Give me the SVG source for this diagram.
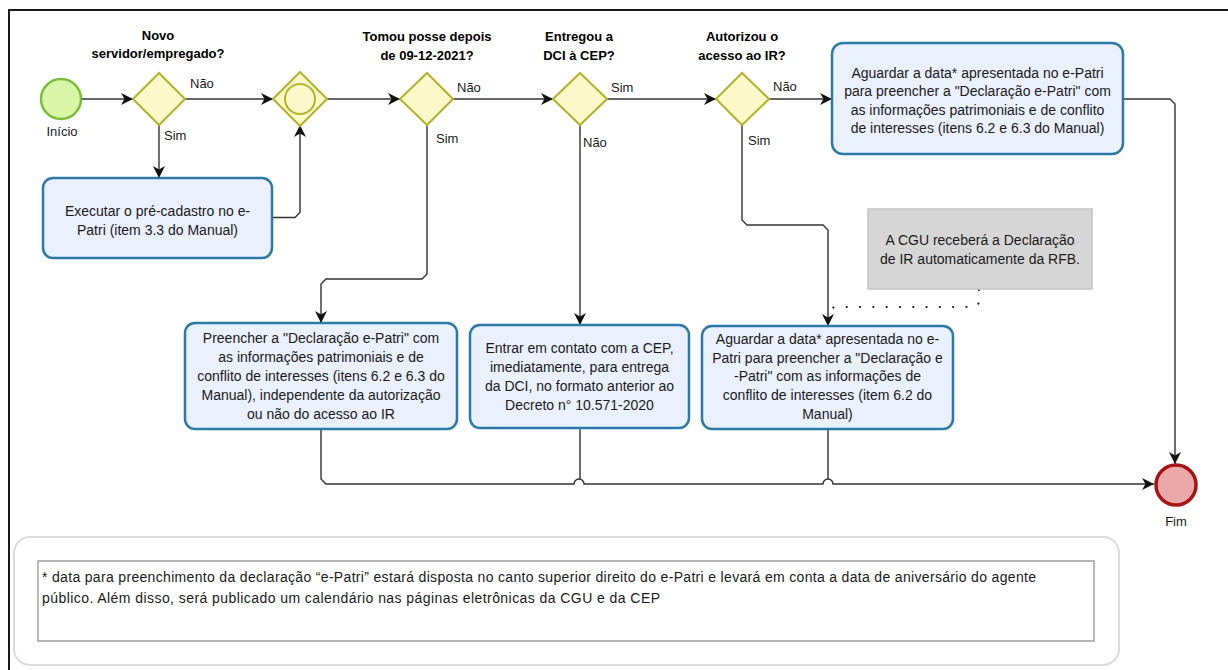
<svg xmlns="http://www.w3.org/2000/svg" width="1228" height="670" viewBox="0 0 1228 670">
<style>
text{font-family:"Liberation Sans",Arial,sans-serif;fill:#1a1a1a}
.q{font-size:13px;font-weight:bold;text-anchor:middle;fill:#000}
.lbl{font-size:13px}
.t{font-size:14px;text-anchor:middle}
.task{fill:#ebf0fd;stroke:#2b7aa8;stroke-width:2.5}
.gw{fill:#fbf9c9;stroke:#b3b32d;stroke-width:2}
.c{fill:none;stroke:#333;stroke-width:1.4}
.foot{font-size:14px}
</style>
<defs>
<marker id="ah" markerUnits="userSpaceOnUse" markerWidth="12" markerHeight="12" refX="12" refY="6" orient="auto">
<path d="M0,0 L12,6 L0,12 L3.5,6 z" fill="#111"/>
</marker>
</defs>
<rect width="1228" height="670" fill="#fff"/>
<path d="M9,680 V10 H1240" fill="none" stroke="#1a1a1a" stroke-width="2"/>

<g id="connectors">
<path class="c" d="M81,99 H133" marker-end="url(#ah)"/>
<path class="c" d="M185,99 H273" marker-end="url(#ah)"/>
<path class="c" d="M159,125 V178" marker-end="url(#ah)"/>
<path class="c" d="M272,217.5 H295 L300,212.5 V125" marker-end="url(#ah)"/>
<path class="c" d="M327,99 H400" marker-end="url(#ah)"/>
<path class="c" d="M453,99 H553" marker-end="url(#ah)"/>
<path class="c" d="M427,125 V274 L422,279 H326 L321,284 V323" marker-end="url(#ah)"/>
<path class="c" d="M607,99 H716" marker-end="url(#ah)"/>
<path class="c" d="M580,125 V325" marker-end="url(#ah)"/>
<path class="c" d="M769,99 H832" marker-end="url(#ah)"/>
<path class="c" d="M742,125 V220 L747,225 H823 L828,230 V326" marker-end="url(#ah)"/>
<path class="c" d="M1123,99 H1170 L1175,104 V464" marker-end="url(#ah)"/>
<path class="c" d="M321,430 V479 L326,484 H574 A5,5 0 0 1 584,484 H823 A5,5 0 0 1 833,484 H1154" marker-end="url(#ah)"/>
<path class="c" d="M580,428 V479"/>
<path class="c" d="M828,429 V479"/>
<path d="M979,290 V300 Q979,307 972,307 H836 Q831,307 830,313" fill="none" stroke="#111" stroke-width="2.2" stroke-linecap="round" stroke-dasharray="0 13.3"/>
</g>

<g id="start">
<circle cx="61" cy="99" r="20" fill="#d8f5a8" stroke="#79bd3a" stroke-width="2.5"/>
<text class="lbl" x="62" y="136" text-anchor="middle">Início</text>
</g>

<g id="gw-novo">
<polygon class="gw" points="133,99 159,73 185,99 159,125"/>
<text class="q" x="158" y="40">Novo</text>
<text class="q" x="158" y="58">servidor/empregado?</text>
<text class="lbl" x="190" y="88">Não</text>
<text class="lbl" x="164" y="140">Sim</text>
</g>

<g id="task-precadastro">
<rect class="task" x="43" y="178" width="229" height="80" rx="10"/>
<text class="t" x="157.5" y="215.5">Executar o pré-cadastro no e-</text>
<text class="t" x="157.5" y="234.5">Patri (item 3.3  do Manual)</text>
</g>

<g id="gw-merge">
<polygon class="gw" points="273,99 300,72 327,99 300,126"/>
<circle cx="300" cy="99" r="15" fill="#fbf9c9" stroke="#b3b32d" stroke-width="2"/>
</g>

<g id="gw-posse">
<polygon class="gw" points="400,99 427,73 453,99 427,125"/>
<text class="q" x="427" y="41">Tomou posse depois</text>
<text class="q" x="427" y="60">de 09-12-2021?</text>
<text class="lbl" x="457" y="92">Não</text>
<text class="lbl" x="436" y="143">Sim</text>
</g>

<g id="gw-dci">
<polygon class="gw" points="553,99 580,73 607,99 580,125"/>
<text class="q" x="579" y="41">Entregou a</text>
<text class="q" x="579" y="60">DCI à CEP?</text>
<text class="lbl" x="611" y="92">Sim</text>
<text class="lbl" x="583" y="147">Não</text>
</g>

<g id="gw-ir">
<polygon class="gw" points="716,99 742,73 769,99 742,125"/>
<text class="q" x="742" y="41">Autorizou  o</text>
<text class="q" x="742" y="60">acesso ao IR?</text>
<text class="lbl" x="773" y="91">Não</text>
<text class="lbl" x="748" y="145">Sim</text>
</g>

<g id="task-aguardar-top">
<rect class="task" x="832" y="43" width="291" height="111" rx="11"/>
<text class="t" x="977.5" y="77.5">Aguardar a data* apresentada no e-Patri</text>
<text class="t" x="977.5" y="96">para preencher a "Declaração e-Patri" com</text>
<text class="t" x="977.5" y="114.5">as  informações patrimoniais e de conflito</text>
<text class="t" x="977.5" y="133">de interesses (itens 6.2 e 6.3 do Manual)</text>
</g>

<g id="task-preencher">
<rect class="task" x="185" y="323" width="272" height="106" rx="10"/>
<text class="t" x="321" y="342.5">Preencher a "Declaração e-Patri" com</text>
<text class="t" x="321" y="361.5">as  informações patrimoniais  e de</text>
<text class="t" x="321" y="380.5">conflito de interesses (itens 6.2 e 6.3 do</text>
<text class="t" x="321" y="399.5">Manual), independente da autorização</text>
<text class="t" x="321" y="418.5">ou não do acesso ao IR</text>
</g>

<g id="task-entrar">
<rect class="task" x="470" y="325" width="219" height="103" rx="10"/>
<text class="t" x="579.5" y="352.5">Entrar em contato com a CEP,</text>
<text class="t" x="579.5" y="371.5">imediatamente, para entrega</text>
<text class="t" x="579.5" y="390.5">da DCI, no formato anterior ao</text>
<text class="t" x="579.5" y="409.5">Decreto n° 10.571-2020</text>
</g>

<g id="note-cgu">
<rect x="868" y="209" width="224" height="80" fill="#d6d6d6" stroke="#c4c4c4" stroke-width="1.5"/>
<text class="t" x="980" y="244.5">A CGU receberá a Declaração</text>
<text class="t" x="980" y="263.5">de IR automaticamente da RFB.</text>
</g>

<g id="task-aguardar-mid">
<rect class="task" x="702" y="326" width="251" height="103" rx="10"/>
<text class="t" x="827.5" y="343.5">Aguardar a data* apresentada no e-</text>
<text class="t" x="827.5" y="362.5">Patri para preencher a "Declaração e</text>
<text class="t" x="827.5" y="380.5">-Patri" com as informações de</text>
<text class="t" x="827.5" y="399.5">conflito de interesses (item 6.2 do</text>
<text class="t" x="827.5" y="418.5">Manual)</text>
</g>

<g id="end">
<circle cx="1176" cy="485" r="20" fill="#eba8a8" stroke="#a81414" stroke-width="3.5"/>
<text class="lbl" x="1176" y="526" text-anchor="middle">Fim</text>
</g>

<g id="footnote">
<rect x="14" y="537" width="1105" height="128" rx="16" fill="#fff" stroke="#dcdcdc" stroke-width="2"/>
<rect x="38" y="561" width="1056" height="80" fill="#fff" stroke="#a0a0a0" stroke-width="1.5"/>
<text class="foot" x="42" y="582" textLength="994" lengthAdjust="spacing">* data para preenchimento da declaração “e-Patri” estará disposta no canto superior direito do e-Patri e levará em conta a data de aniversário do agente</text>
<text class="foot" x="42" y="603" textLength="618" lengthAdjust="spacing">público. Além disso, será publicado um calendário nas páginas eletrônicas da CGU e da CEP</text>
</g>
</svg>
